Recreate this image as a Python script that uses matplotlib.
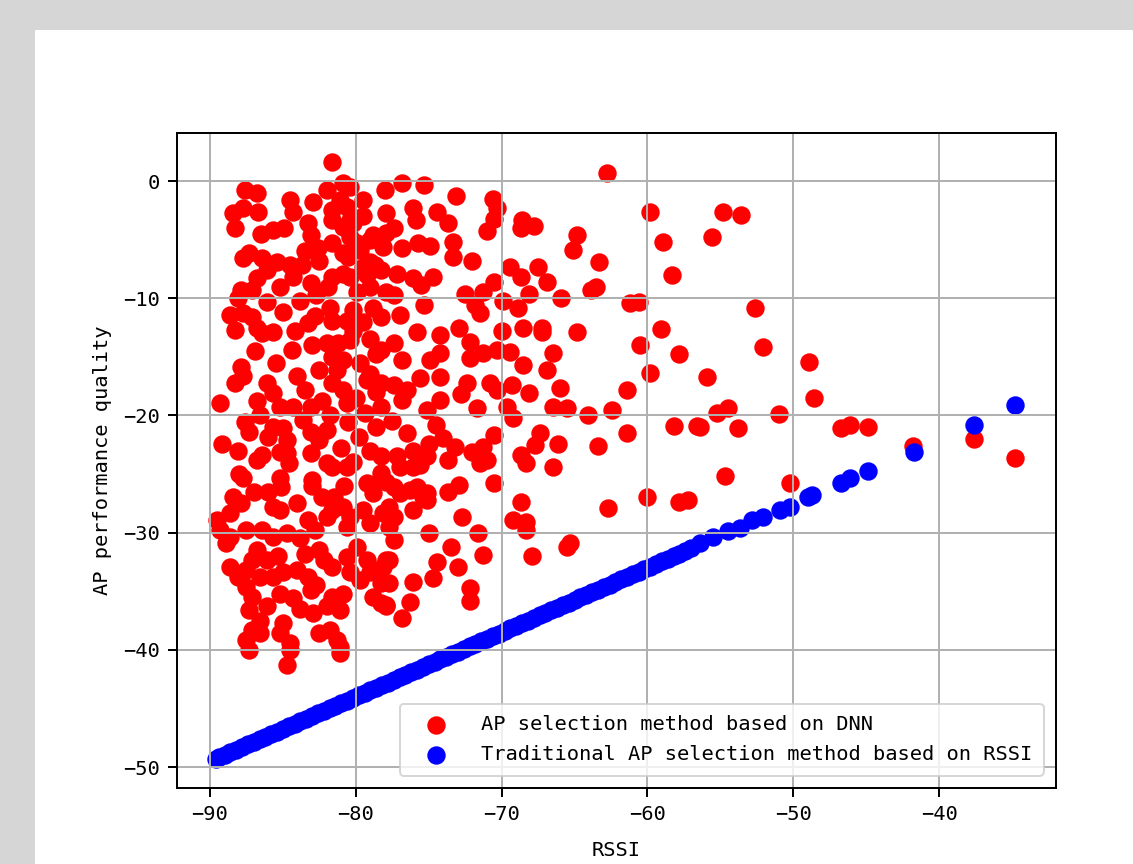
import matplotlib
matplotlib.use("Agg")
import matplotlib.pyplot as plt

# ---------------- data ----------------
dnn_label = "AP selection method based on DNN"
rssi_label = "Traditional AP selection method based on RSSI"
x_label = "RSSI"
y_label = "AP performance quality"
x_ticks = [-90, -80, -70, -60, -50, -40]
y_ticks = [0, -10, -20, -30, -40, -50]

dnn_points = [
    (-52.6,-10.8),(-52.1,-14.2),(-48.9,-15.4),(-48.6,-18.5),(-55.9,-16.7),(-55.2,-19.8),(-54.5,-19.4),
    (-56.4,-21.0),(-53.8,-21.1),(-51.0,-19.9),(-54.7,-25.2),(-50.2,-25.8),(-46.7,-21.1),(-46.1,-20.8),
    (-44.9,-21.0),(-41.8,-22.6),(-37.6,-22.0),(-34.8,-23.6),
    (-78.3,-11.6),(-77.0,-11.4),(-72.9,-12.5),(-75.8,-12.9),(-74.2,-13.1),(-72.2,-13.7),(-71.5,-11.3),
    (-68.5,-12.5),(-67.2,-12.5),(-67.2,-12.9),(-64.8,-12.9),(-59.1,-12.6),(-60.5,-14.0),(-57.8,-14.8),
    (-59.8,-16.4),
    (-78.3,-14.4),(-77.4,-13.8),(-76.8,-15.3),(-74.9,-15.3),(-74.2,-14.7),(-72.2,-15.1),(-71.3,-14.7),
    (-70.3,-14.4),(-69.4,-14.6),(-68.5,-15.7),(-66.9,-16.1),(-66.5,-14.7),
    (-78.3,-17.2),(-77.4,-17.4),(-76.5,-17.8),(-75.6,-16.8),(-74.2,-16.7),(-72.4,-17.2),(-70.8,-17.2),
    (-70.3,-17.8),(-69.3,-17.4),(-68.1,-18.1),(-66.0,-17.7),
    (-78.3,-19.3),(-76.8,-18.7),(-75.1,-19.5),(-74.2,-18.7),(-71.7,-19.4),(-69.6,-19.3),(-69.2,-20.2),
    (-66.5,-19.3),(-65.5,-19.4),(-64.1,-20.0),(-62.4,-19.5),(-61.4,-17.8),(-61.4,-21.5),(-58.2,-20.9),
    (-56.6,-20.9),
    (-63.4,-22.6),(-70.5,-21.7),(-67.4,-21.5),(-67.7,-22.5),(-66.1,-22.4),(-68.7,-23.4),(-68.3,-24.1),
    (-66.5,-24.4),
    (-76.1,-23.0),(-75.0,-22.4),(-74.0,-21.9),(-73.2,-22.7),(-73.7,-23.8),(-72.0,-23.1),(-71.3,-22.7),
    (-71.5,-24.1),(-71.0,-23.8),
    (-78.3,-23.5),(-77.0,-24.4),(-75.6,-24.2),(-77.9,-25.7),(-76.3,-26.4),(-75.1,-26.6),(-73.7,-26.5),
    (-72.9,-25.9),(-70.5,-25.8),
    (-68.7,-27.4),(-69.2,-28.9),(-68.3,-29.1),(-68.3,-29.8),
    (-62.7,-27.9),(-60.0,-27.0),(-57.8,-27.4),(-57.2,-27.2),
    (-65.3,-30.9),(-65.5,-31.2),(-67.9,-32.0),
    (-78.3,-24.9),(-77.7,-27.8),(-77.4,-28.7),(-75.4,-27.0),(-72.7,-28.7),(-73.5,-31.2),(-74.4,-32.5),
    (-73.0,-32.9),(-71.6,-30.0),(-71.3,-31.9),
    (-77.9,-32.3),(-76.1,-34.2),(-78.3,-34.3),(-74.7,-33.9),(-76.3,-35.9),(-72.2,-34.7),(-72.2,-35.8),
    (-77.9,-36.2),(-76.8,-37.3),
    (-62.8,0.7),(-76.8,-0.2),(-75.3,-0.3),(-73.1,-1.3),(-70.6,-1.5),(-70.3,-2.3),(-70.5,-3.2),
    (-79.5,-1.6),(-80.4,-0.5),(-59.8,-2.6),(-54.8,-2.6),(-53.6,-2.9),
    (-76.1,-2.3),(-75.9,-3.3),(-74.4,-2.6),(-73.7,-3.6),(-77.9,-2.7),(-77.4,-4.0),(-77.9,-4.4),
    (-68.6,-3.3),(-67.8,-3.8),(-68.7,-4.0),(-64.8,-4.6),(-65.1,-5.9),(-63.3,-6.9),(-58.9,-5.2),
    (-58.3,-8.0),(-55.6,-4.8),
    (-75.7,-5.3),(-74.9,-5.5),(-73.3,-5.2),(-73.3,-6.5),(-79.0,-5.0),(-78.1,-5.6),(-76.8,-5.7),
    (-69.4,-7.3),(-68.7,-8.2),(-67.5,-7.3),(-66.9,-8.6),(-70.5,-8.6),(-69.9,-10.2),(-68.9,-10.8),
    (-68.1,-9.6),
    (-65.9,-10.0),(-63.9,-9.3),(-63.5,-9.0),(-61.2,-10.4),(-60.6,-10.3),
    (-76.1,-8.3),(-75.5,-8.9),(-74.7,-8.2),(-77.9,-9.5),(-77.4,-9.7),(-72.5,-9.6),(-71.3,-9.5),
    (-71.8,-10.6),(-75.3,-10.6),
    (-80.4,-8.2),(-79.5,-7.3),(-78.3,-7.6),(-77.2,-7.9),(-79.0,-9.0),(-79.9,-5.3),(-78.8,-4.6),
    (-80.4,-3.3),
    (-81.6,1.6),(-80.9,-0.2),(-87.6,-0.8),(-86.8,-1.0),(-88.4,-2.7),(-87.7,-2.3),(-86.7,-2.6),
    (-88.3,-4.0),(-84.5,-1.6),(-84.3,-2.6),(-82.9,-1.8),(-85.7,-4.2),(-84.9,-4.0),(-83.3,-3.6),
    (-83.1,-4.6),(-82.6,-5.7),
    (-81.6,-2.5),(-81.1,-1.6),(-80.6,-2.2),(-81.6,-3.3),(-80.9,-3.9),(-80.4,-4.8),(-80.2,-3.6),
    (-81.6,-5.3),(-80.9,-6.1),(-79.7,-5.9),(-79.0,-6.9),
    (-87.7,-6.6),(-87.3,-6.1),(-86.4,-6.6),(-85.4,-6.9),(-84.5,-7.2),(-83.7,-7.2),(-84.3,-8.2),
    (-83.1,-8.7),(-86.1,-7.6),(-86.8,-8.3),(-87.1,-9.3),(-87.9,-9.3),(-88.1,-10.0),
    (-86.1,-10.3),(-85.0,-11.2),(-83.8,-10.2),(-83.3,-12.1),(-82.7,-9.7),
    (-81.9,-9.0),(-81.6,-8.2),(-80.9,-7.9),(-81.8,-10.8),(-81.6,-11.9),(-80.6,-11.9),(-80.2,-11.0),
    (-88.6,-11.4),(-87.7,-11.3),(-87.1,-11.6),(-88.3,-12.7),(-86.8,-12.5),(-86.4,-13.0),(-85.7,-12.9),
    (-82.0,-13.8),(-81.2,-13.8),(-80.4,-13.6),(-81.6,-15.0),(-80.9,-15.3),(-81.3,-16.1),
    (-84.4,-14.4),(-84.0,-16.6),(-82.5,-16.1),
    (-87.9,-15.9),(-87.7,-16.6),(-88.3,-17.2),(-86.1,-17.2),(-85.7,-18.1),
    (-81.6,-17.2),(-80.9,-17.8),(-80.6,-18.9),(-79.2,-17.0),
    (-89.3,-18.9),
    (-85.2,-19.3),(-84.3,-19.3),(-83.1,-19.3),
    (-87.6,-20.6),(-87.3,-21.4),(-86.6,-20.0),(-85.7,-21.0),(-85.0,-21.1),(-84.7,-22.1),(-83.6,-20.4),
    (-83.1,-21.4),(-82.5,-22.1),(-82.0,-21.2),
    (-89.2,-22.4),(-88.1,-23.0),(-86.4,-23.4),(-85.2,-23.1),(-84.6,-24.1),
    (-82.0,-24.1),(-81.6,-24.4),(-80.6,-24.4),
    (-87.7,-25.3),(-86.8,-23.8),(-84.7,-23.2),(-83.1,-23.2),
    (-85.2,-25.3),(-85.1,-26.1),
    (-88.4,-27.0),(-87.9,-27.5),(-88.6,-28.3),(-89.5,-28.9),(-89.3,-29.8),(-88.6,-30.4),(-88.9,-30.9),
    (-85.2,-28.1),(-83.3,-28.9),(-82.0,-28.7),(-81.6,-28.1),(-80.9,-27.8),(-80.4,-28.7),(-80.6,-29.5),
    (-79.5,-28.1),(-79.0,-29.2),(-78.1,-28.3),(-77.7,-29.5),(-77.4,-30.6),
    (-87.5,-29.8),(-86.4,-29.8),(-85.7,-30.4),(-84.7,-30.0),
    (-82.5,-31.5),(-82.2,-32.3),(-81.6,-32.9),(-80.6,-32.1),(-80.4,-33.4),(-79.7,-34.0),
    (-79.9,-31.2),(-79.2,-32.3),(-79.0,-33.4),(-78.1,-32.9),(-77.7,-32.3),
    (-88.6,-32.9),(-88.1,-33.8),(-87.5,-33.2),(-87.1,-32.3),(-86.1,-32.3),(-86.6,-33.8),(-85.7,-33.8),
    (-85.0,-33.4),(-84.0,-33.2),(-83.3,-33.8),
    (-87.5,-34.6),(-87.1,-35.5),(-86.1,-36.3),(-87.3,-36.6),(-86.6,-37.5),(-87.1,-38.3),(-87.5,-39.2),
    (-87.3,-40.0),(-86.6,-38.6),
    (-85.2,-35.2),(-84.3,-35.6),(-83.1,-34.9),(-82.9,-36.9),(-82.0,-36.3),(-81.6,-35.5),(-80.9,-35.2),
    (-81.1,-36.6),
    (-85.0,-37.7),(-85.2,-38.6),(-84.5,-39.4),(-84.5,-40.0),(-84.7,-41.3),
    (-82.5,-38.6),(-81.8,-38.3),(-81.3,-39.2),(-81.1,-39.8),(-81.1,-40.3),
    (-78.8,-35.5),(-78.3,-36.0),(-77.9,-36.3),(-77.7,-34.3),
    (-77.2,-23.5),(-76.1,-24.4),(-75.1,-23.5),(-78.3,-25.3),(-77.4,-26.1),(-77.0,-26.6),(-75.8,-26.1),
    (-75.1,-27.2),(-76.1,-28.1),(-79.2,-25.8),(-78.8,-26.6),
    (-80.2,-12.8),(-79.5,-12.0),(-79.0,-13.5),(-78.6,-14.8),(-79.7,-15.5),(-79.0,-16.5),(-80.0,-18.5),
    (-79.4,-19.8),(-78.6,-18.0),(-80.5,-20.6),(-79.8,-21.8),(-81.0,-22.8),(-80.2,-24.0),(-79.0,-23.0),
    (-78.6,-21.0),(-80.8,-26.0),(-81.5,-27.0),(-79.9,-9.5),(-79.2,-8.0),(-78.8,-10.8),(-80.5,-6.5),
    (-79.5,-3.0),(-78.7,-7.2),
    (-86.0,-26.5),(-84.0,-27.5),(-83.0,-26.0),(-82.3,-27.0),(-83.8,-30.5),(-82.8,-29.8),(-86.8,-31.5),
    (-85.3,-32.0),(-83.5,-31.8),(-82.7,-34.5),(-83.8,-36.5),(-85.7,-27.8),(-88.0,-25.0),(-87.0,-26.5),
    (-84.2,-12.8),(-83.0,-14.0),(-82.8,-11.5),(-85.5,-15.5),(-86.9,-14.5),(-83.5,-17.8),(-82.3,-18.8),
    (-86.8,-18.8),(-86.0,-21.8),(-83.0,-25.5),(-81.8,-20.0),(-82.5,-6.8),(-83.5,-6.0),(-85.2,-9.0),
    (-86.5,-4.5),(-82.0,-0.8),(-76.5,-21.5),(-77.5,-20.5),(-74.5,-20.8),(-72.8,-18.2),(-75.0,-30.0),
    (-70.0,-12.8),(-72.0,-6.8),(-71.0,-4.3),(-78.0,-0.8),
]
dnn_rssi = [p[0] for p in dnn_points]
dnn_quality = [p[1] for p in dnn_points]

rssi_rssi = [
    -89.6, -89.4, -89.0, -88.6, -88.2, -87.8, -87.4, -87.0, -86.6, -86.2, -85.8, -85.4, -85.0, -84.6,
    -84.2, -83.8, -83.4, -83.0, -82.6, -82.2, -81.8, -81.4, -81.0, -80.6, -80.2, -79.8, -79.4, -79.0,
    -78.6, -78.2, -77.8, -77.4, -77.0, -76.6, -76.2, -75.8, -75.4, -75.0, -74.6, -74.2, -73.8, -73.4,
    -73.0, -72.6, -72.2, -71.8, -71.4, -71.0, -70.6, -70.2, -69.8, -69.4, -69.0, -68.6, -68.2, -67.8,
    -67.4, -67.0, -66.6, -66.2, -65.8, -65.4, -65.0, -64.6, -64.2, -63.8, -63.4, -63.0, -62.6, -62.2,
    -61.8, -61.4, -61.0, -60.6, -60.2, -59.8, -59.4, -59.0, -58.6, -58.2, -57.8, -57.4, -57.0,
    -56.4, -55.5, -54.5, -53.65, -52.8, -52.1, -50.9, -50.2, -49.0, -48.7, -46.7, -46.1, -44.9,
    -41.7, -37.6, -34.8,
]
rssi_quality = [
    -49.28, -49.17, -48.95, -48.73, -48.51, -48.29, -48.07, -47.85, -47.63, -47.41, -47.19, -46.97,
    -46.75, -46.53, -46.31, -46.09, -45.87, -45.65, -45.43, -45.21, -44.99, -44.77, -44.55, -44.33,
    -44.11, -43.89, -43.67, -43.45, -43.23, -43.01, -42.79, -42.57, -42.35, -42.13, -41.91, -41.69,
    -41.47, -41.25, -41.03, -40.81, -40.59, -40.37, -40.15, -39.93, -39.71, -39.49, -39.27, -39.05,
    -38.83, -38.61, -38.39, -38.17, -37.95, -37.73, -37.51, -37.29, -37.07, -36.85, -36.63, -36.41,
    -36.19, -35.97, -35.75, -35.53, -35.31, -35.09, -34.87, -34.65, -34.43, -34.21, -33.99, -33.77,
    -33.55, -33.33, -33.11, -32.89, -32.67, -32.45, -32.23, -32.01, -31.79, -31.57, -31.35,
    -30.9, -30.4, -29.9, -29.6, -28.9, -28.7, -28.1, -27.8, -27.0, -26.8, -25.8, -25.3, -24.7,
    -23.1, -20.8, -19.1,
]

# ---------------- figure ----------------
FONT = "DejaVu Sans Mono"
FS = 14.7
fig = plt.figure(figsize=(11.33, 8.64), dpi=100)
fig.patch.set_facecolor("#d6d6d6")

# white page area behind the axes
bg = fig.add_axes([35 / 1133, 0, 1 - 35 / 1133, 1 - 30 / 864], zorder=-10)
bg.set_facecolor("white")
bg.set_xticks([])
bg.set_yticks([])
for sp in bg.spines.values():
    sp.set_visible(False)

ax = fig.add_axes([177 / 1133, 76 / 864, 879 / 1133, 655 / 864], zorder=1)
ax.set_facecolor("white")

ax.scatter(dnn_rssi, dnn_quality, s=150, c="red", label=dnn_label)
ax.scatter(rssi_rssi, rssi_quality, s=150, c="blue", label=rssi_label)

ax.set_xlim(-92.26, -31.98)
ax.set_ylim(-51.79, 4.1)
ax.set_xticks(x_ticks)
ax.set_yticks(y_ticks)
ax.set_xticklabels([str(t).replace("-", "\u2212") for t in x_ticks], fontfamily=FONT, fontsize=FS)
ax.set_yticklabels([str(t).replace("-", "\u2212") for t in y_ticks], fontfamily=FONT, fontsize=FS)
ax.set_axisbelow("line")
ax.grid(True, color="#b0b0b0", linewidth=1.42)
for sp in ax.spines.values():
    sp.set_linewidth(1.42)
ax.tick_params(length=6.2, width=1.42, pad=6.2)

ax.set_xlabel(x_label, fontfamily=FONT, fontsize=FS, labelpad=12)
ax.set_ylabel(y_label, fontfamily=FONT, fontsize=FS, labelpad=8)

leg = ax.legend(loc="lower right", prop={"family": FONT, "size": FS},
                handlelength=2.45, handletextpad=0.98, borderpad=0.55,
                labelspacing=0.55, borderaxespad=0.61, scatterpoints=1,
                fancybox=True, framealpha=0.8)
leg.get_frame().set_linewidth(1.42)
leg.set_zorder(5)

fig.savefig("out.png", dpi=100, facecolor=fig.get_facecolor())
